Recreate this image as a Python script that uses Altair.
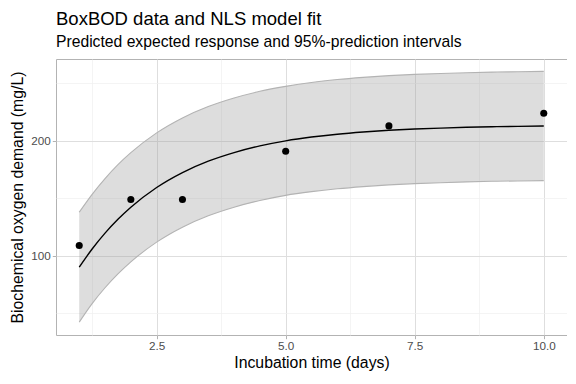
import altair as alt
import pandas as pd

# observed BoxBOD data
time_obs = [1, 2, 3, 5, 7, 10]
bod_obs = [109, 149, 149, 191, 213, 224]

# fitted curve and prediction band
x_fit = [1, 1.25, 1.5, 1.75, 2, 2.5, 3, 3.5, 4, 4.5, 5, 5.5, 6, 6.5, 7, 7.5, 8, 8.5, 9, 9.5, 10]
y_fit = [90.1, 105.9, 119.7, 131.7, 142.2, 159.4, 172.4, 182.3, 189.8, 195.6, 200.0, 203.3,
         205.8, 207.7, 209.2, 210.3, 211.1, 211.8, 212.3, 212.6, 212.9]
y_upr = [137.9, 153.5, 167.2, 179.3, 189.7, 206.9, 219.9, 229.8, 237.3, 243.1, 247.4, 250.8,
         253.3, 255.2, 256.7, 257.8, 258.6, 259.3, 259.8, 260.1, 260.4]
y_lwr = [42.3, 58.4, 72.2, 84.2, 94.7, 111.9, 124.9, 134.8, 142.3, 148.1, 152.6, 155.8,
         158.3, 160.2, 161.7, 162.8, 163.6, 164.3, 164.8, 165.1, 165.4]

x_ticks = [1.25, 2.5, 3.75, 5.0, 6.25, 7.5, 8.75, 10.0]
y_ticks = [50, 100, 150, 200, 250]

obs = pd.DataFrame({"time": time_obs, "bod": bod_obs})
fit = pd.DataFrame({"time": x_fit, "fit": y_fit, "upr": y_upr, "lwr": y_lwr})

FONT = "Liberation Sans"

xscale = alt.Scale(domain=[0.55, 10.45], nice=False, zero=False)
yscale = alt.Scale(domain=[31.1, 271.2], nice=False, zero=False)

xaxis = alt.Axis(
    values=x_ticks, format=".1f",
    labelExpr="datum.value % 2.5 == 0 ? datum.label : ''",
    grid=True,
    gridColor={"condition": {"test": "datum.value % 2.5 == 0", "value": "#dedede"}, "value": "#efefef"},
    gridWidth={"condition": {"test": "datum.value % 2.5 == 0", "value": 1}, "value": 0.7},
    tickOpacity={"condition": {"test": "datum.value % 2.5 == 0", "value": 1}, "value": 0},
    title="Incubation time (days)",
)
yaxis = alt.Axis(
    values=y_ticks,
    labelExpr="datum.value % 100 == 0 ? datum.label : ''",
    grid=True,
    gridColor={"condition": {"test": "datum.value % 100 == 0", "value": "#dedede"}, "value": "#efefef"},
    gridWidth={"condition": {"test": "datum.value % 100 == 0", "value": 1}, "value": 0.7},
    tickOpacity={"condition": {"test": "datum.value % 100 == 0", "value": 1}, "value": 0},
    title="Biochemical oxygen demand (mg/L)",
)

band = alt.Chart(fit).mark_area(color="#999999", opacity=0.33, interpolate="monotone").encode(
    x=alt.X("time:Q", scale=xscale, axis=xaxis),
    y=alt.Y("lwr:Q", scale=yscale, axis=yaxis),
    y2="upr:Q",
)
upr_line = alt.Chart(fit).mark_line(color="#b3b3b3", strokeWidth=1.1, interpolate="monotone").encode(
    x=alt.X("time:Q", scale=xscale), y=alt.Y("upr:Q", scale=yscale))
lwr_line = alt.Chart(fit).mark_line(color="#b3b3b3", strokeWidth=1.1, interpolate="monotone").encode(
    x=alt.X("time:Q", scale=xscale), y=alt.Y("lwr:Q", scale=yscale))
fit_line = alt.Chart(fit).mark_line(color="black", strokeWidth=1.4, interpolate="monotone").encode(
    x=alt.X("time:Q", scale=xscale), y=alt.Y("fit:Q", scale=yscale))
points = alt.Chart(obs).mark_circle(color="black", size=50, opacity=1).encode(
    x=alt.X("time:Q", scale=xscale), y=alt.Y("bod:Q", scale=yscale))

chart = alt.layer(band, upr_line, lwr_line, fit_line, points).properties(
    width=511, height=276,
    autosize=alt.AutoSizeParams(type="none"),
    padding={"left": 48, "top": 51, "right": 0, "bottom": 40},
    title=alt.TitleParams(
        "BoxBOD data and NLS model fit",
        subtitle="Predicted expected response and 95%-prediction intervals",
        anchor="start", frame="group", font=FONT, fontSize=18.5, fontWeight="normal",
        color="black", subtitleFont=FONT, subtitleFontSize=15.7, subtitleColor="black",
        subtitlePadding=7, offset=9,
    ),
).configure_view(
    stroke="#b3b3b3", strokeWidth=1,
).configure_axis(
    domain=False, tickColor="#b3b3b3", tickSize=3.7, labelFont=FONT, labelFontSize=11.7,
    labelColor="#4d4d4d", labelPadding=2, titleFont=FONT, titleFontSize=15.8,
    titleFontWeight="normal", titleColor="black",
).configure_axisX(titlePadding=3).configure_axisY(titlePadding=5)

chart.save("out.html", embed_options={"renderer": "svg", "actions": False})
